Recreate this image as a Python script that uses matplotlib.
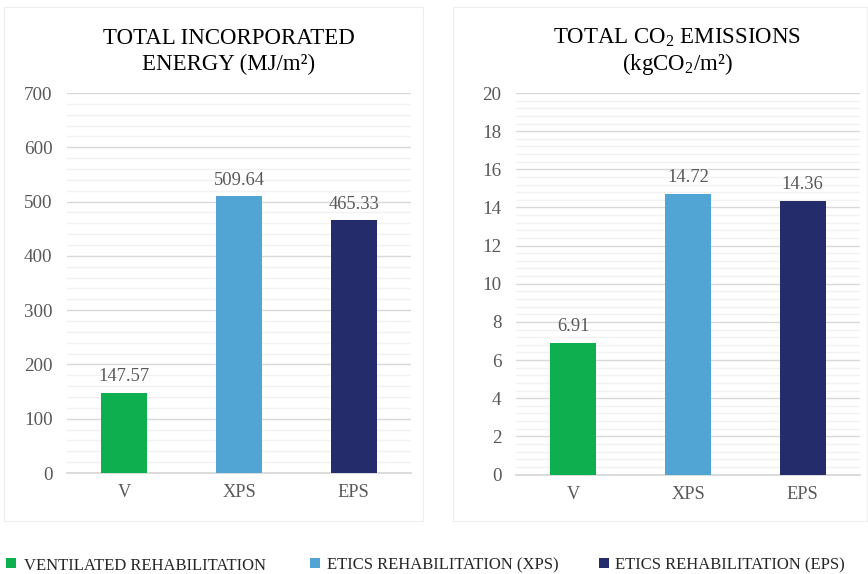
import matplotlib
matplotlib.use("Agg")
import matplotlib.pyplot as plt
from matplotlib.ticker import MultipleLocator
from matplotlib.patches import Rectangle

plt.rcParams['font.family'] = ['Liberation Serif', 'DejaVu Serif']
plt.rcParams['mathtext.fontset'] = 'custom'
plt.rcParams['mathtext.rm'] = 'Liberation Serif'
plt.rcParams['mathtext.it'] = 'Liberation Serif:italic'
plt.rcParams['mathtext.bf'] = 'Liberation Serif:bold'

categories = ["V", "XPS", "EPS"]
energy = [147.57, 509.64, 465.33]
co2 = [6.91, 14.72, 14.36]
series_names = ["VENTILATED REHABILITATION", "ETICS REHABILITATION (XPS)",
                "ETICS REHABILITATION (EPS)"]
colors = ["#0DAF4F", "#50A5D4", "#242C6B"]

W, H = 868, 574
fig = plt.figure(figsize=(W / 100, H / 100), dpi=100)

def fx(px):
    return px / W

def fy(py):
    return 1 - py / H

# panel frames
for x0, x1 in [(4, 423), (453, 867)]:
    fig.patches.append(Rectangle((fx(x0), fy(521)), fx(x1) - fx(x0), fy(7) - fy(521),
                                 transform=fig.transFigure, fill=False,
                                 edgecolor="#EEEEEE", linewidth=0.8))

tick_color = "#595959"

def panel(rect, values, ymax, major, minor, fmt, title_lines, title_x):
    ax = fig.add_axes(rect)
    x = range(len(categories))
    ax.bar(x, values, width=0.4, color=colors, zorder=3)
    ax.set_xlim(-0.5, len(categories) - 0.5)
    ax.set_ylim(0, ymax)
    ax.yaxis.set_major_locator(MultipleLocator(major))
    ax.yaxis.set_minor_locator(MultipleLocator(minor))
    ax.grid(which="major", axis="y", color="#D9D9D9", linewidth=1.0, zorder=1)
    ax.grid(which="minor", axis="y", color="#F2F2F2", linewidth=1.0, zorder=0)
    for s in ["top", "right", "left"]:
        ax.spines[s].set_visible(False)
    ax.spines["bottom"].set_color("#D9D9D9")
    ax.spines["bottom"].set_linewidth(1.3)
    ax.tick_params(axis="both", which="both", length=0)
    ax.tick_params(axis="y", pad=10.5, labelsize=13.7, labelcolor=tick_color)
    ax.tick_params(axis="x", pad=8, labelsize=13.2, labelcolor=tick_color)
    ax.set_xticks(list(x))
    ax.set_xticklabels(categories)
    for xi, v in zip(x, values):
        ax.annotate(fmt.format(v), (xi, v), xytext=(0, 8.5), textcoords="offset points",
                    ha="center", va="baseline", fontsize=13.3, color=tick_color)
    for t, py in title_lines:
        fig.text(fx(title_x), fy(py), t, ha="center", va="baseline",
                 fontsize=16.5, color="#000000")
    return ax

panel([fx(67), fy(473), fx(411) - fx(67), fy(93) - fy(473)], energy, 700, 100, 20,
      "{:.2f}", [("TOTAL INCORPORATED", 44), ("ENERGY (MJ/m²)", 70)], 229)
panel([fx(516), fy(474.5), fx(860) - fx(516), fy(93) - fy(474.5)], co2, 20, 2, 0.4,
      "{:.2f}", [(r"TOTAL CO$_{\mathrm{2}}$ EMISSIONS", 44),
                 (r"(kgCO$_{\mathrm{2}}$/m²)", 70)], 677)

# legend
for (sx, tx), name, c in zip([(6, 24), (310, 327), (599, 615)], series_names, colors):
    fig.patches.append(Rectangle((fx(sx), fy(568)), fx(10), fy(558) - fy(568),
                                 transform=fig.transFigure, facecolor=c, edgecolor="none"))
    fig.text(fx(tx), fy(569.5), name, ha="left", va="baseline", fontsize=12, color="#262626")

fig.savefig("out.png", dpi=100, facecolor="white")
